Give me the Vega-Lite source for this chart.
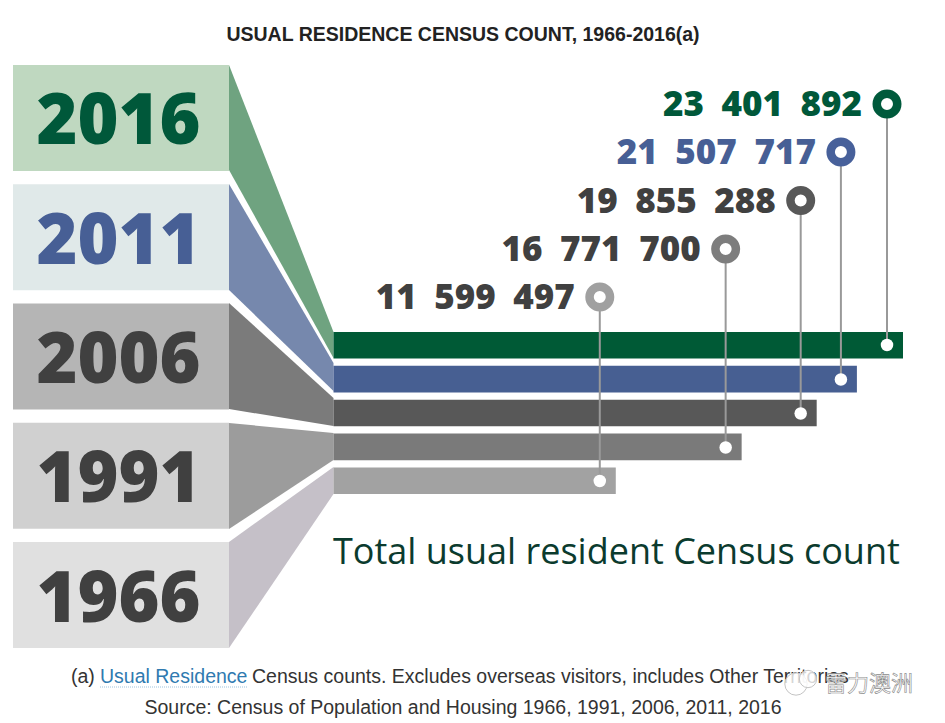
{
"$schema":"https://vega.github.io/schema/vega-lite/v6.json",
"width":945,"height":723,"padding":0,"autosize":{"type":"fit","contains":"padding"},
"background":"white",
"config":{"view":{"stroke":null},"locale":{"number":{"decimal":".","thousands":"\u2002","grouping":[3],"currency":["$",""]},"time":{"dateTime":"%x, %X","date":"%-m/%-d/%Y","time":"%-I:%M:%S %p","periods":["AM","PM"],"days":["Sunday","Monday","Tuesday","Wednesday","Thursday","Friday","Saturday"],"shortDays":["Sun","Mon","Tue","Wed","Thu","Fri","Sat"],"months":["January","February","March","April","May","June","July","August","September","October","November","December"],"shortMonths":["Jan","Feb","Mar","Apr","May","Jun","Jul","Aug","Sep","Oct","Nov","Dec"]}}},
"datasets":{
"census":[
{"year":2016,"population":23401892,"calloutY":104,"barY":345},
{"year":2011,"population":21507717,"calloutY":152,"barY":379.5},
{"year":2006,"population":19855288,"calloutY":200.5,"barY":413.5},
{"year":1991,"population":16771700,"calloutY":249,"barY":447.5},
{"year":1966,"population":11599497,"calloutY":297,"barY":481}],
"funnel":[
{"year":2016,"stage":0,"top":65,"bottom":170},{"year":2016,"stage":1,"top":332,"bottom":358},
{"year":2011,"stage":0,"top":184,"bottom":290},{"year":2011,"stage":1,"top":363,"bottom":391},
{"year":2006,"stage":0,"top":303,"bottom":409},{"year":2006,"stage":1,"top":398,"bottom":426},
{"year":1991,"stage":0,"top":423,"bottom":529},{"year":1991,"stage":1,"top":433,"bottom":460},
{"year":1966,"stage":0,"top":542,"bottom":648},{"year":1966,"stage":1,"top":467,"bottom":494}]
},
"resolve":{"scale":{"x":"independent","y":"independent","color":"independent"}},
"layer":[
{"data":{"name":"census"},"mark":{"type":"rect"},
 "encoding":{
  "x":{"datum":0,"type":"quantitative","scale":{"domain":[0,1],"range":[13,229]},"axis":null},
  "x2":{"datum":1},
  "y":{"field":"year","type":"nominal","axis":null,"scale":{"domain":[2016,2011,2006,1991,1966],"range":[65,648],"paddingInner":0.112,"paddingOuter":0}},
  "color":{"field":"year","type":"nominal","legend":null,"scale":{"domain":[2016,2011,2006,1991,1966],"range":["#bfd8c0","#e0e9e9","#b5b5b5","#d0d0d0","#e0e0e0"]}}}},
{"data":{"name":"census"},"mark":{"type":"text","font":"Open Sans","fontWeight":800,"fontSize":70,"align":"center","baseline":"middle"},
 "encoding":{
  "x":{"datum":0.5,"type":"quantitative","scale":{"domain":[0,1],"range":[13,224]},"axis":null},
  "y":{"field":"year","type":"nominal","axis":null,"scale":{"type":"band","domain":[2016,2011,2006,1991,1966],"range":[70.5,653.5],"paddingInner":0.112,"paddingOuter":0}},
  "text":{"field":"year","type":"nominal"},
  "color":{"field":"year","type":"nominal","legend":null,"scale":{"domain":[2016,2011,2006,1991,1966],"range":["#00583a","#475f95","#404040","#404040","#404040"]}}}},
{"data":{"name":"funnel"},"mark":{"type":"area","opacity":1},
 "encoding":{
  "x":{"field":"stage","type":"quantitative","axis":null,"scale":{"domain":[0,1],"range":[229,333.5]}},
  "y":{"field":"top","type":"quantitative","axis":null,"stack":null,"scale":{"domain":[0,723],"range":[0,723]}},
  "y2":{"field":"bottom"},
  "color":{"field":"year","type":"nominal","legend":null,"scale":{"domain":[2016,2011,2006,1991,1966],"range":["#6fa380","#7688ad","#7b7b7b","#9c9c9c","#c5c0c8"]}}}},
{"data":{"name":"census"},"mark":{"type":"bar"},
 "encoding":{
  "x":{"field":"population","type":"quantitative","axis":null,"scale":{"domain":[0,23401892],"range":[333.5,903]}},
  "y":{"field":"year","type":"nominal","axis":null,"scale":{"domain":[2016,2011,2006,1991,1966],"range":[332,494],"paddingInner":0.215,"paddingOuter":0}},
  "color":{"field":"year","type":"nominal","legend":null,"scale":{"domain":[2016,2011,2006,1991,1966],"range":["#005a36","#475f92","#585858","#7a7a7a","#a2a2a2"]}}}},
{"data":{"name":"census"},"mark":{"type":"rule","color":"#999999","strokeWidth":2,"xOffset":-16},
 "encoding":{
  "x":{"field":"population","type":"quantitative","axis":null,"scale":{"domain":[0,23401892],"range":[333.5,903]}},
  "y":{"field":"calloutY","type":"quantitative","axis":null,"scale":{"domain":[0,723],"range":[0,723]}},
  "y2":{"field":"barY"}}},
{"data":{"name":"census"},"mark":{"type":"point","shape":"circle","filled":false,"fill":"white","fillOpacity":1,"opacity":1,"size":420,"strokeWidth":8.5,"xOffset":-16},
 "encoding":{
  "x":{"field":"population","type":"quantitative","axis":null,"scale":{"domain":[0,23401892],"range":[333.5,903]}},
  "y":{"field":"calloutY","type":"quantitative","axis":null,"scale":{"domain":[0,723],"range":[0,723]}},
  "stroke":{"field":"year","type":"nominal","legend":null,"scale":{"domain":[2016,2011,2006,1991,1966],"range":["#005a3c","#47609a","#585858","#7d7d7d","#a0a0a0"]}}}},
{"data":{"name":"census"},"mark":{"type":"point","shape":"circle","filled":true,"color":"white","opacity":1,"size":156,"xOffset":-16},
 "encoding":{
  "x":{"field":"population","type":"quantitative","axis":null,"scale":{"domain":[0,23401892],"range":[333.5,903]}},
  "y":{"field":"barY","type":"quantitative","axis":null,"scale":{"domain":[0,723],"range":[0,723]}}}},
{"data":{"name":"census"},"mark":{"type":"text","font":"Open Sans","fontWeight":800,"fontSize":35,"align":"right","baseline":"middle","xOffset":-41,"yOffset":1},
 "encoding":{
  "x":{"field":"population","type":"quantitative","axis":null,"scale":{"domain":[0,23401892],"range":[333.5,903]}},
  "y":{"field":"calloutY","type":"quantitative","axis":null,"scale":{"domain":[0,723],"range":[0,723]}},
  "text":{"field":"population","type":"quantitative","format":",d"},
  "color":{"field":"year","type":"nominal","legend":null,"scale":{"domain":[2016,2011,2006,1991,1966],"range":["#00583a","#475f95","#404040","#404040","#404040"]}}}},
{"data":{"values":[{"note":"Total usual resident Census count"}]},"mark":{"type":"text","font":"Open Sans","fontWeight":500,"fontSize":36,"align":"left","baseline":"alphabetic","color":"#0b3b2e"},
 "encoding":{"x":{"datum":333,"type":"quantitative","axis":null,"scale":{"domain":[0,945],"range":[0,945]}},"y":{"datum":564,"type":"quantitative","axis":null,"scale":{"domain":[0,723],"range":[0,723]}},"text":{"field":"note"}}},
{"data":{"values":[{"note":"USUAL RESIDENCE CENSUS COUNT, 1966-2016(a)"}]},"mark":{"type":"text","font":"Liberation Sans","fontWeight":"bold","fontSize":19.5,"align":"center","baseline":"alphabetic","color":"#222222"},
 "encoding":{"x":{"datum":463,"type":"quantitative","axis":null,"scale":{"domain":[0,945],"range":[0,945]}},"y":{"datum":41,"type":"quantitative","axis":null,"scale":{"domain":[0,723],"range":[0,723]}},"text":{"field":"note"}}},
{"data":{"values":[{"note":"(a)"}]},"mark":{"type":"text","font":"Liberation Sans","fontSize":19.5,"align":"left","baseline":"alphabetic","color":"#333333"},
 "encoding":{"x":{"datum":71,"type":"quantitative","axis":null,"scale":{"domain":[0,945],"range":[0,945]}},"y":{"datum":683,"type":"quantitative","axis":null,"scale":{"domain":[0,723],"range":[0,723]}},"text":{"field":"note"}}},
{"data":{"values":[{"note":"Usual Residence"}]},"mark":{"type":"text","font":"Liberation Sans","fontSize":19.5,"align":"left","baseline":"alphabetic","color":"#2f7ab0"},
 "encoding":{"x":{"datum":100,"type":"quantitative","axis":null,"scale":{"domain":[0,945],"range":[0,945]}},"y":{"datum":683,"type":"quantitative","axis":null,"scale":{"domain":[0,723],"range":[0,723]}},"text":{"field":"note"}}},
{"data":{"values":[{"from":100,"to":247}]},"mark":{"type":"rule","color":"#9fc3dc","strokeWidth":1,"strokeDash":[1,1]},
 "encoding":{"x":{"field":"from","type":"quantitative","axis":null,"scale":{"domain":[0,945],"range":[0,945]}},"x2":{"field":"to"},"y":{"datum":687,"type":"quantitative","axis":null,"scale":{"domain":[0,723],"range":[0,723]}}}},
{"data":{"values":[{"note":"Census counts. Excludes overseas visitors, includes Other Territories"}]},"mark":{"type":"text","font":"Liberation Sans","fontSize":19.5,"align":"left","baseline":"alphabetic","color":"#333333"},
 "encoding":{"x":{"datum":252,"type":"quantitative","axis":null,"scale":{"domain":[0,945],"range":[0,945]}},"y":{"datum":683,"type":"quantitative","axis":null,"scale":{"domain":[0,723],"range":[0,723]}},"text":{"field":"note"}}},
{"data":{"values":[{"note":"Source: Census of Population and Housing 1966, 1991, 2006, 2011, 2016"}]},"mark":{"type":"text","font":"Liberation Sans","fontSize":19.5,"align":"center","baseline":"alphabetic","color":"#333333"},
 "encoding":{"x":{"datum":463,"type":"quantitative","axis":null,"scale":{"domain":[0,945],"range":[0,945]}},"y":{"datum":714,"type":"quantitative","axis":null,"scale":{"domain":[0,723],"range":[0,723]}},"text":{"field":"note"}}},
{"data":{"values":[{"bubble":"a"}]},"mark":{"type":"point","shape":"circle","filled":false,"fill":"white","fillOpacity":0.8,"stroke":"#c4c4c4","strokeWidth":1,"size":500},
 "encoding":{"x":{"datum":796,"type":"quantitative","axis":null,"scale":{"domain":[0,945],"range":[0,945]}},"y":{"datum":684,"type":"quantitative","axis":null,"scale":{"domain":[0,723],"range":[0,723]}}}},
{"data":{"values":[{"bubble":"b"}]},"mark":{"type":"point","shape":"circle","filled":false,"fill":"white","fillOpacity":0.8,"stroke":"#c4c4c4","strokeWidth":1,"size":300},
 "encoding":{"x":{"datum":808,"type":"quantitative","axis":null,"scale":{"domain":[0,945],"range":[0,945]}},"y":{"datum":679,"type":"quantitative","axis":null,"scale":{"domain":[0,723],"range":[0,723]}}}},
{"data":{"values":[{"note":"雷力澳洲"}]},"mark":{"type":"text","font":"Noto Sans CJK SC","fontSize":22,"align":"left","baseline":"alphabetic","fill":"#ffffff","stroke":"#8a8a8a","strokeWidth":0.6},
 "encoding":{"x":{"datum":825,"type":"quantitative","axis":null,"scale":{"domain":[0,945],"range":[0,945]}},"y":{"datum":691,"type":"quantitative","axis":null,"scale":{"domain":[0,723],"range":[0,723]}},"text":{"field":"note"}}}
]
}
